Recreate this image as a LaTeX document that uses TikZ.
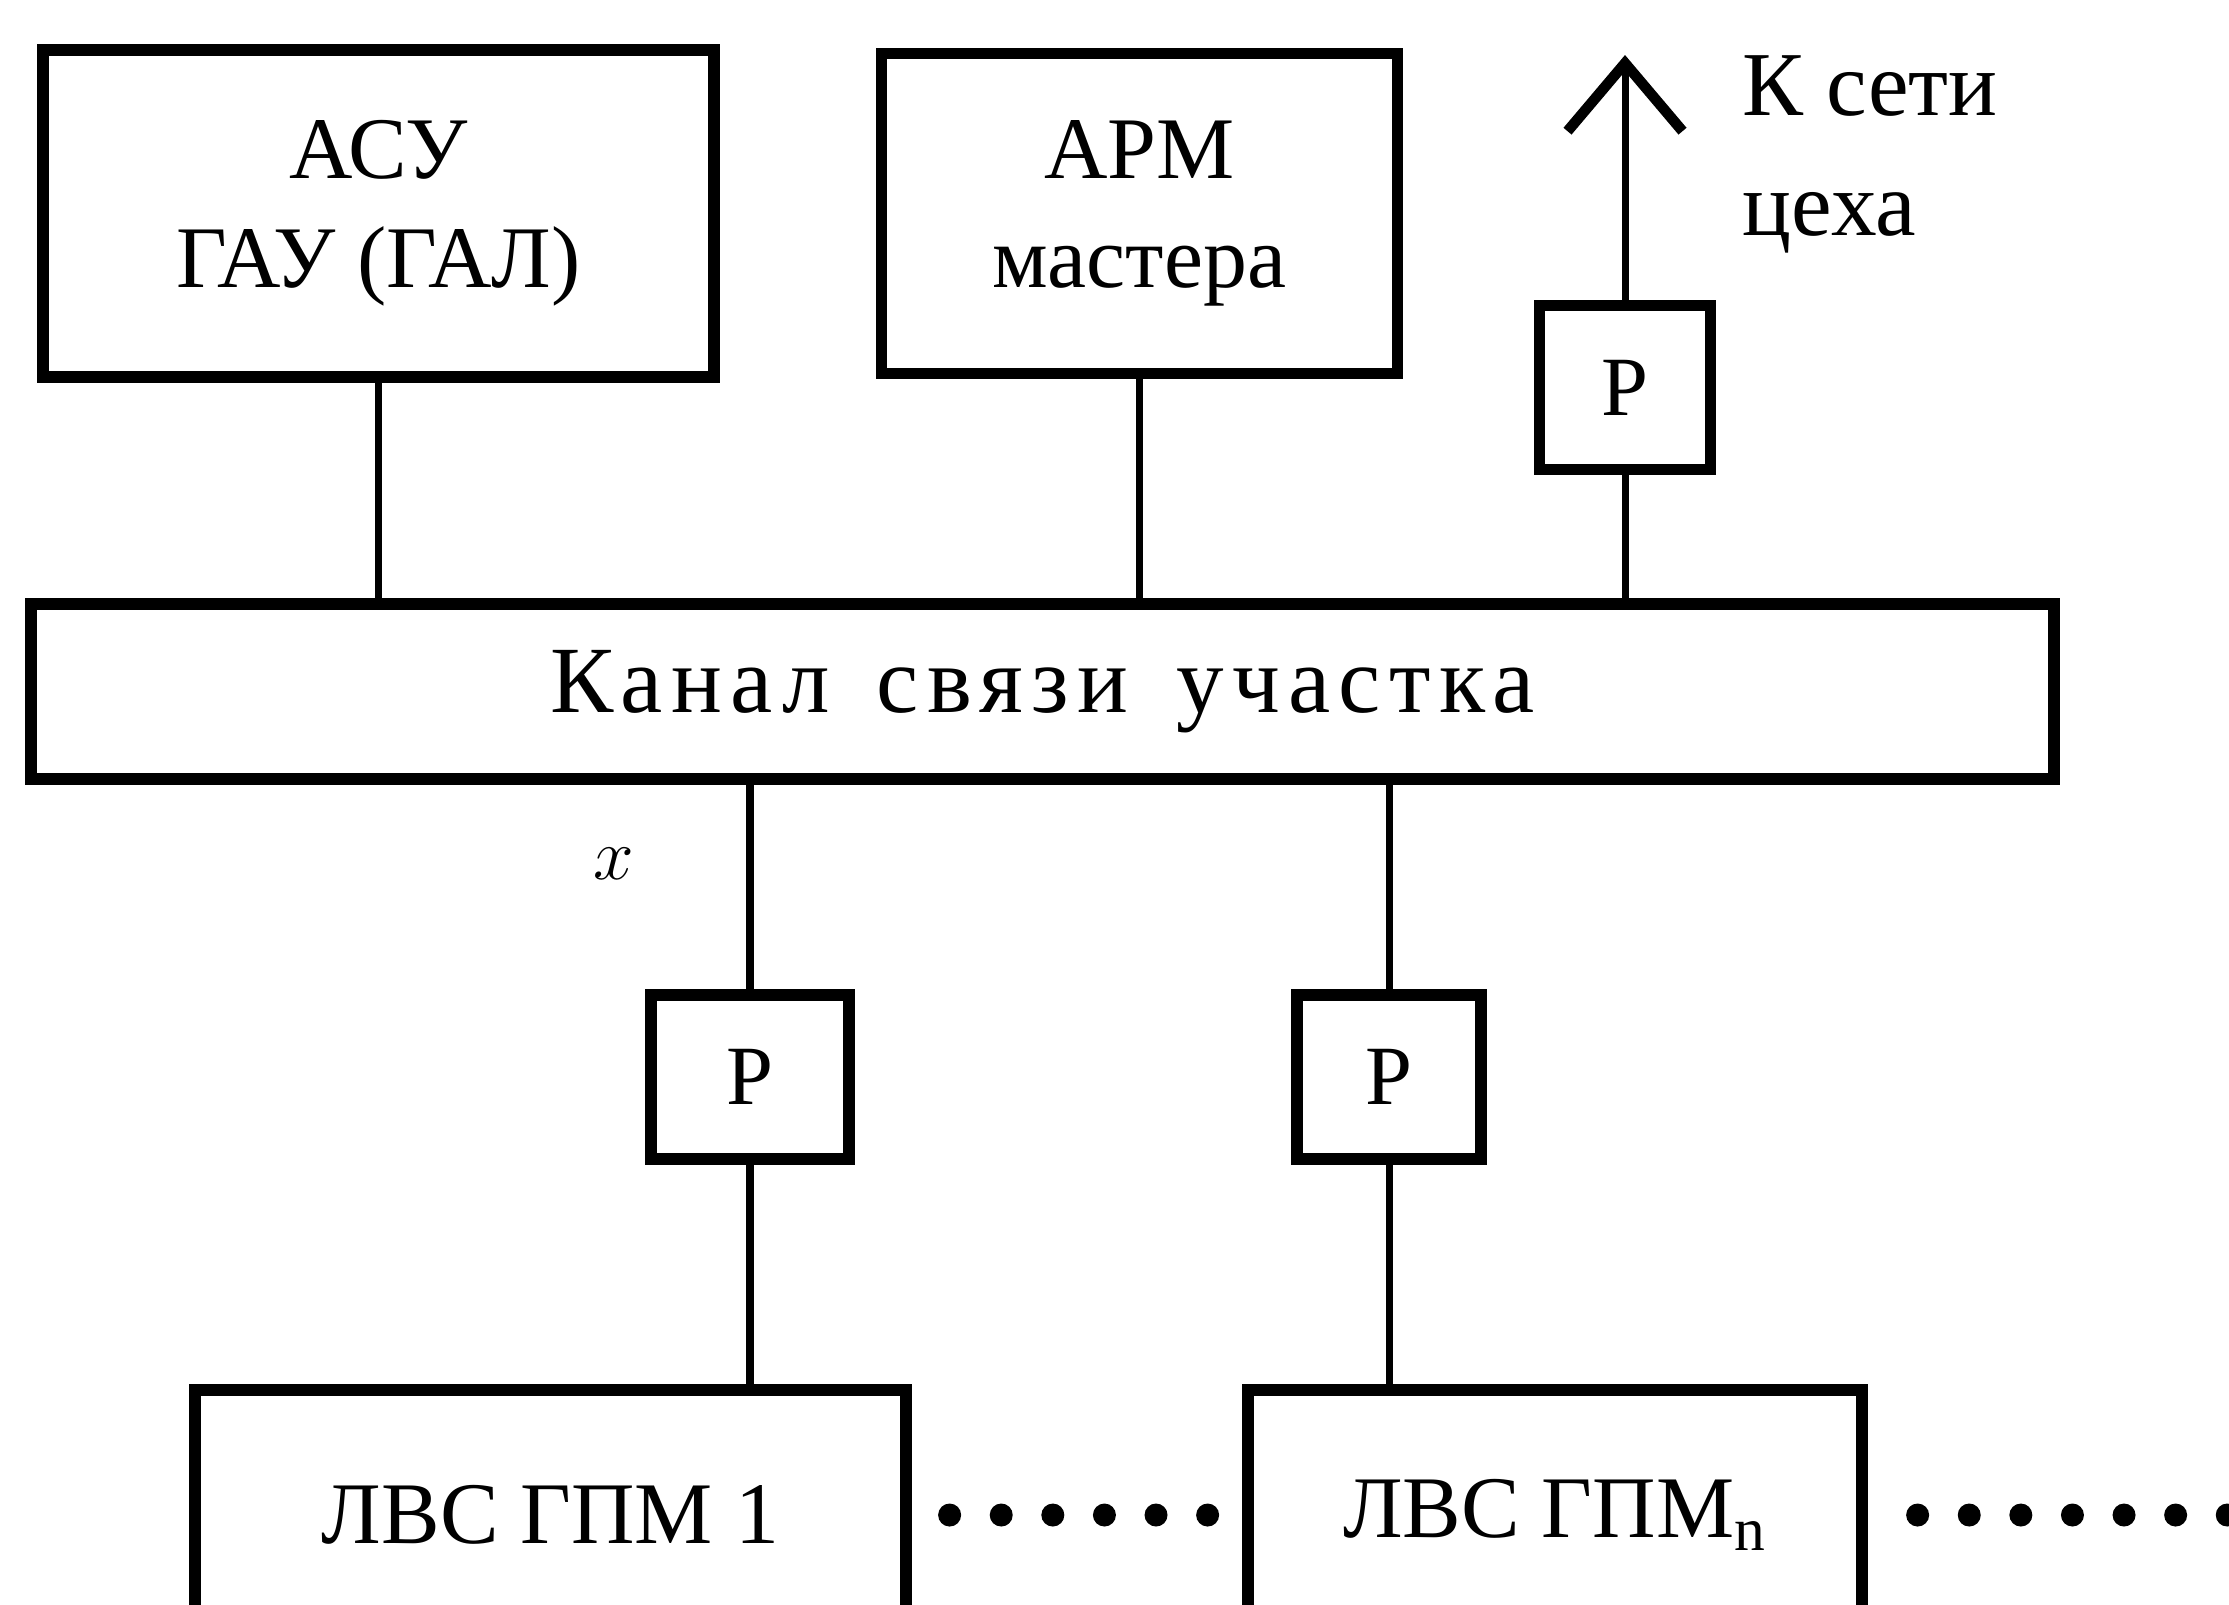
\documentclass[tikz,border=0pt]{standalone}
\usepackage{fontspec}
\setmainfont{Liberation Serif}
\usepackage{tikz}
\usetikzlibrary{positioning,calc,arrows.meta}

\begin{document}
\begin{tikzpicture}[
    box/.style={draw, line width=3.2pt, align=center, inner sep=0pt,
                font=\fontsize{25}{31}\selectfont},
    relay/.style={draw, line width=3.2pt, align=center, inner sep=0pt,
                  minimum width=1.8cm, minimum height=1.64cm,
                  font=\fontsize{24}{26}\selectfont},
    link/.style={line width=2pt},
    uparr/.style={line width=2pt,
                  -{Straight Barb[length=6.8mm, width=11.5mm, line width=3pt]}},
    dots/.style={line width=2.3mm, line cap=round,
                 dash pattern=on 0pt off 5.16mm},
    lbl/.style={align=left, inner sep=0pt, font=\fontsize{26}{34}\selectfont},
  ]
  \clip (0,0) rectangle (22.29,-16.04);

  % Top row: ACU, ARM, relay to the shop net
  \node[box, minimum width=6.71cm, minimum height=3.27cm] (asu) at (3.785,-2.135) {АСУ\\ГАУ (ГАЛ)};
  \node[box, minimum width=5.16cm, minimum height=3.2cm, right=1.56cm of asu] (arm) {АРМ\\мастера};
  \node[relay, minimum width=1.71cm] (ptop) at (16.25,-3.875) {Р};
  \coordinate (net) at (16.25,-0.55);
  \node[lbl, anchor=north west] (netlbl) at (17.42,-0.55) {К сети\\цеха};

  % Channel
  \node[box, minimum width=20.23cm, minimum height=1.75cm,
        font=\fontsize{27}{28}\selectfont\addfontfeature{LetterSpace=9}] (chan) at (10.425,-6.915)
        {Канал\hspace{0.5em}связи\hspace{0.5em}участка};

  % Bottom: relays and LANs
  \node[relay, minimum width=1.98cm] (p1) at (7.5,-10.77) {Р};
  \node[relay, minimum width=1.84cm] (p2) at (13.89,-10.77) {Р};
  \node[box, minimum width=7.11cm, minimum height=2.5cm] (lvs1) at (5.505,-15.15) {ЛВС ГПМ 1};
  \node[box, minimum width=6.14cm, minimum height=2.5cm] (lvs2) at (15.55,-15.15) {ЛВС ГПМ$_{\mathrm{n}}$};
  \coordinate (more) at (22.6,-15.15);
  \node[font=\fontsize{22}{22}\selectfont] (xmark) at (6.14,-8.64) {$x$};

  % Links to the channel
  \draw[link] (asu.south) -- (asu.south |- chan.north);
  \draw[link] (arm.south) -- (arm.south |- chan.north);
  \draw[link] (ptop.south) -- (ptop.south |- chan.north);
  \draw[uparr] (ptop.north) -- (ptop.north |- net);
  \draw[link] (p1.north) -- (p1.north |- chan.south);
  \draw[link] (p2.north) -- (p2.north |- chan.south);
  \draw[link] (p1.south) -- (p1.south |- lvs1.north);
  \draw[link] (p2.south) -- (p2.south |- lvs2.north);

  % Dots between LANs
  \draw[dots, shorten <=3.8mm, shorten >=2.4mm] (lvs1.east) -- (lvs2.west);
  \draw[dots, shorten <=5mm] (lvs2.east) -- (more);
\end{tikzpicture}
\end{document}
